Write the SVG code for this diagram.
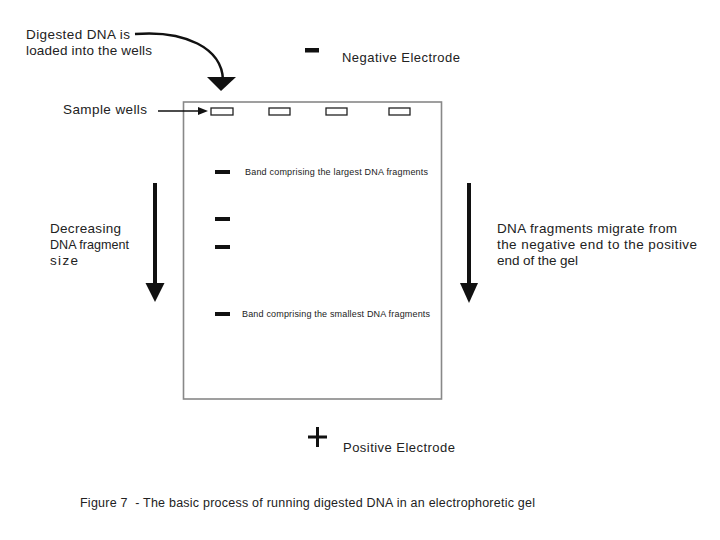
<svg xmlns="http://www.w3.org/2000/svg" width="720" height="540" viewBox="0 0 720 540">
<defs>
<style>
text{font-family:"Liberation Sans",Arial,sans-serif;fill:#222}
.lbl{font-size:13.5px}
.sm{font-size:9px}
.well{fill:#fff;stroke:#222;stroke-width:1.3}
.band{fill:#111}
.conn{fill:none;stroke:#111}
</style>
</defs>
<rect width="720" height="540" fill="#fff"/>
<g id="gel">
<rect x="183.5" y="102" width="258" height="297" fill="#fff" stroke="#888" stroke-width="1.6"/>
</g>
<g id="wells">
<rect class="well" x="211" y="108" width="22" height="7"/>
<rect class="well" x="269" y="108" width="21" height="7"/>
<rect class="well" x="326" y="108" width="21" height="7"/>
<rect class="well" x="389" y="108" width="21" height="7"/>
</g>
<g id="bands">
<rect class="band" x="215" y="170" width="15" height="4"/>
<rect class="band" x="215" y="217" width="15" height="4"/>
<rect class="band" x="215" y="245" width="15" height="4"/>
<rect class="band" x="215" y="312" width="15" height="4"/>
<text class="sm" x="245" y="175" textLength="183">Band comprising the largest DNA fragments</text>
<text class="sm" x="242" y="317" textLength="188">Band comprising the smallest DNA fragments</text>
</g>
<g id="labels">
<text class="lbl" x="26" y="39" textLength="104">Digested DNA is</text>
<text class="lbl" x="26" y="55" textLength="126">loaded into the wells</text>
<text class="lbl" x="63" y="114" textLength="84">Sample wells</text>
<text class="lbl" x="50" y="233" textLength="71">Decreasing</text>
<text class="lbl" x="50" y="249" textLength="79" lengthAdjust="spacingAndGlyphs">DNA fragment</text>
<text class="lbl" x="50" y="265" textLength="28">size</text>
<text class="lbl" x="497" y="233" textLength="180">DNA fragments migrate from</text>
<text class="lbl" x="497" y="249" textLength="200">the negative end to the positive</text>
<text class="lbl" x="497" y="265" textLength="81">end of the gel</text>
<text font-size="13" x="342" y="62" textLength="118">Negative Electrode</text>
<text font-size="13" x="343" y="452" textLength="112">Positive Electrode</text>
<text font-size="12.5" x="80" y="507" textLength="455" xml:space="preserve">Figure 7  - The basic process of running digested DNA in an electrophoretic gel</text>
</g>
<g id="electrodes">
<rect x="305" y="48" width="14" height="4.5" fill="#111"/>
<path d="M308,437 H327 M317.5,427 V447" stroke="#111" stroke-width="3"/>
</g>
<g id="connectors">
<path class="conn" stroke-width="2.5" d="M135,34 C185,30 222,48 223,80"/>
<path d="M207,77 L236,77 L221,91 Z" fill="#111"/>
<path class="conn" stroke-width="1.3" d="M158,111 H199"/>
<path d="M198,107 L208,111 L198,115 Z" fill="#111"/>
<path class="conn" stroke-width="4" d="M155,183 V284"/>
<path d="M145.5,283 L164.5,283 L155,302 Z" fill="#111"/>
<path class="conn" stroke-width="4" d="M469,183 V284"/>
<path d="M460,283 L478,283 L469,303 Z" fill="#111"/>
</g>
</svg>
